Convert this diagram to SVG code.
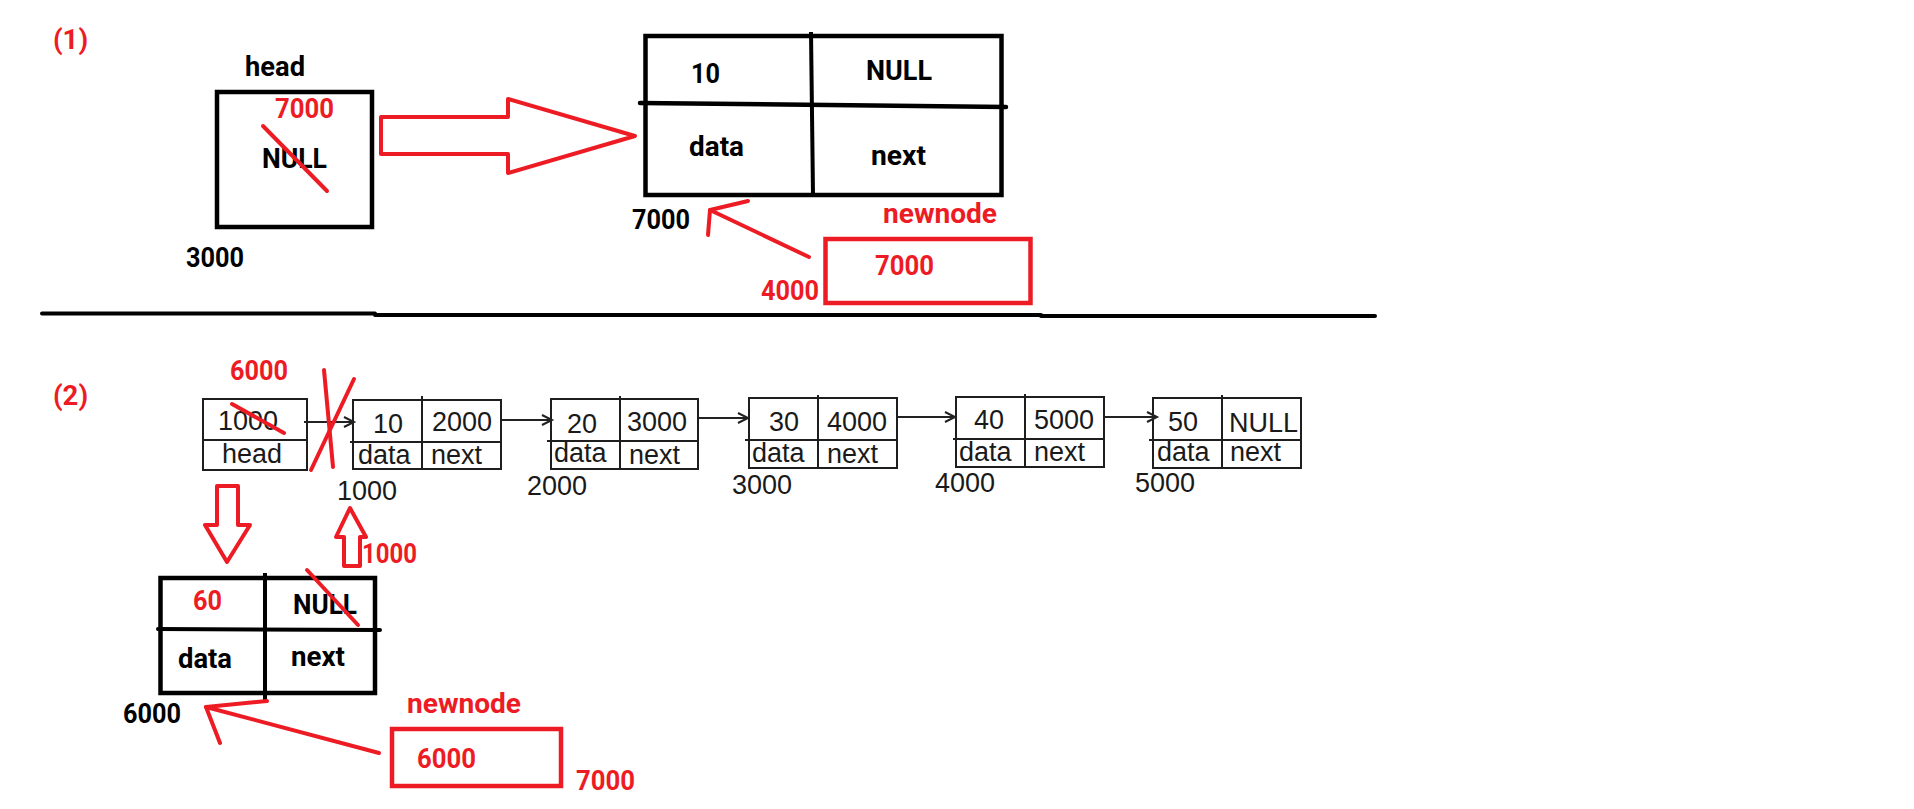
<svg xmlns="http://www.w3.org/2000/svg" width="1914" height="809" viewBox="0 0 1914 809">
<defs>
<style>
.bg{fill:#ffffff}
.thick{fill:none;stroke:#000;stroke-width:4.5}
.thin{fill:none;stroke:#1e1e1e;stroke-width:2}
.red{fill:none;stroke:#ed1c24;stroke-width:4;stroke-linecap:round;stroke-linejoin:round}
.redbox{fill:none;stroke:#ed1c24;stroke-width:4.5}
.tb{font-family:Roboto,"Liberation Sans",sans-serif;font-weight:700;font-size:27.5px;fill:#000}
.tr{font-family:Roboto,"Liberation Sans",sans-serif;font-weight:700;font-size:27.5px;fill:#ed1c24}
.tn{font-family:"Liberation Sans",Arial,sans-serif;font-size:27px;fill:#1a1a1a}
.conn{fill:none;stroke:#222;stroke-width:2}
</style>
<marker id="chev" markerUnits="userSpaceOnUse" markerWidth="14" markerHeight="14" refX="11" refY="6" orient="auto">
<path d="M1,1 L11,6 L1,11" fill="none" stroke="#222" stroke-width="2"/>
</marker>
</defs>
<rect class="bg" x="0" y="0" width="1914" height="809"/>

<!-- Section (1) -->
<text class="tr" x="53" y="49" font-size="26">(1)</text>

<g id="s1-head">
<text class="tb" x="245" y="76" textLength="60" lengthAdjust="spacingAndGlyphs">head</text>
<rect class="thick" x="217" y="92" width="155" height="135"/>
<text class="tr" x="275" y="118" textLength="59" lengthAdjust="spacingAndGlyphs">7000</text>
<text class="tb" x="262" y="168" textLength="65" lengthAdjust="spacingAndGlyphs">NULL</text>
<line class="red" x1="263" y1="126" x2="327" y2="191"/>
<text class="tb" x="186" y="267" textLength="58" lengthAdjust="spacingAndGlyphs">3000</text>
</g>

<g id="s1-node7000">
<rect class="thick" x="645.5" y="36" width="356" height="159"/>
<line x1="811" y1="32" x2="813" y2="195" stroke="#000" stroke-width="4"/>
<line x1="640" y1="103" x2="1006" y2="107" stroke="#000" stroke-width="4.5" stroke-linecap="round"/>
<text class="tb" x="691" y="83" textLength="29" lengthAdjust="spacingAndGlyphs">10</text>
<text class="tb" x="866" y="80" textLength="66" lengthAdjust="spacingAndGlyphs">NULL</text>
<text class="tb" x="689" y="156" textLength="55" lengthAdjust="spacingAndGlyphs">data</text>
<text class="tb" x="871" y="165" textLength="55" lengthAdjust="spacingAndGlyphs">next</text>
<text class="tb" x="632" y="229" textLength="58" lengthAdjust="spacingAndGlyphs">7000</text>
</g>

<g id="s1-newnode">
<text class="tr" x="883" y="223" textLength="114" lengthAdjust="spacingAndGlyphs">newnode</text>
<rect class="redbox" x="825.5" y="239" width="205" height="64"/>
<text class="tr" x="875" y="275" textLength="59" lengthAdjust="spacingAndGlyphs">7000</text>
<text class="tr" x="761" y="300" textLength="58" lengthAdjust="spacingAndGlyphs">4000</text>
</g>

<!-- separator -->
<path d="M42,313.5 H375 M375,315 H1041 M1041,316 H1375" fill="none" stroke="#000" stroke-width="4" stroke-linecap="round"/>

<!-- Section (2) -->
<text class="tr" x="53" y="405" font-size="26">(2)</text>

<g id="s2-head">
<rect class="thin" x="203" y="399" width="104" height="71"/>
<line class="thin" x1="203" y1="440" x2="307" y2="440"/>
<text class="tn" x="218" y="430">1000</text>
<text class="tn" x="222" y="463">head</text>
<text class="tr" x="230" y="380" textLength="58" lengthAdjust="spacingAndGlyphs">6000</text>
<line class="red" x1="232" y1="404" x2="284" y2="433"/>
</g>

<g id="n1000">
<rect class="thin" x="353" y="400" width="148" height="69"/>
<line class="thin" x1="422" y1="396" x2="422" y2="469"/>
<line class="thin" x1="350" y1="442" x2="501" y2="442"/>
<text class="tn" x="373" y="433">10</text>
<text class="tn" x="432" y="431">2000</text>
<text class="tn" x="358" y="464">data</text>
<text class="tn" x="431" y="464">next</text>
<text class="tn" x="337" y="500">1000</text>
</g>

<g id="n2000">
<rect class="thin" x="551" y="399" width="147" height="70"/>
<line class="thin" x1="620" y1="396" x2="620" y2="469"/>
<line class="thin" x1="547" y1="441" x2="698" y2="441"/>
<text class="tn" x="567" y="433">20</text>
<text class="tn" x="627" y="431">3000</text>
<text class="tn" x="554" y="462">data</text>
<text class="tn" x="629" y="464">next</text>
<text class="tn" x="527" y="495">2000</text>
</g>

<g id="n3000">
<rect class="thin" x="749" y="398" width="148" height="70"/>
<line class="thin" x1="818" y1="395" x2="818" y2="468"/>
<line class="thin" x1="745" y1="440" x2="897" y2="440"/>
<text class="tn" x="769" y="431">30</text>
<text class="tn" x="827" y="431">4000</text>
<text class="tn" x="752" y="462">data</text>
<text class="tn" x="827" y="463">next</text>
<text class="tn" x="732" y="494">3000</text>
</g>

<g id="n4000">
<rect class="thin" x="956" y="397" width="148" height="70"/>
<line class="thin" x1="1025" y1="394" x2="1025" y2="467"/>
<line class="thin" x1="953" y1="439" x2="1104" y2="439"/>
<text class="tn" x="974" y="429">40</text>
<text class="tn" x="1034" y="429">5000</text>
<text class="tn" x="959" y="461">data</text>
<text class="tn" x="1034" y="461">next</text>
<text class="tn" x="935" y="492">4000</text>
</g>

<g id="n5000">
<rect class="thin" x="1153" y="398" width="148" height="70"/>
<line class="thin" x1="1222" y1="395" x2="1222" y2="468"/>
<line class="thin" x1="1149" y1="440" x2="1301" y2="440"/>
<text class="tn" x="1168" y="431">50</text>
<text class="tn" x="1229" y="432">NULL</text>
<text class="tn" x="1157" y="461">data</text>
<text class="tn" x="1230" y="461">next</text>
<text class="tn" x="1135" y="492">5000</text>
</g>

<g id="s2-node6000">
<rect class="thick" x="160.5" y="578" width="214.5" height="115"/>
<line x1="265" y1="573" x2="265" y2="703" stroke="#000" stroke-width="4"/>
<line x1="158" y1="629" x2="380" y2="630" stroke="#000" stroke-width="4" stroke-linecap="round"/>
<text class="tr" x="193" y="610" textLength="29" lengthAdjust="spacingAndGlyphs">60</text>
<text class="tb" x="293" y="614" textLength="64" lengthAdjust="spacingAndGlyphs">NULL</text>
<line class="red" x1="307" y1="570" x2="358" y2="625"/>
<text class="tb" x="178" y="668" textLength="54" lengthAdjust="spacingAndGlyphs">data</text>
<text class="tb" x="291" y="666" textLength="54" lengthAdjust="spacingAndGlyphs">next</text>
<text class="tb" x="123" y="723" textLength="58" lengthAdjust="spacingAndGlyphs">6000</text>
</g>

<g id="s2-newnode">
<text class="tr" x="407" y="713" textLength="114" lengthAdjust="spacingAndGlyphs">newnode</text>
<rect class="redbox" x="392" y="729" width="169" height="57"/>
<text class="tr" x="417" y="768" textLength="59" lengthAdjust="spacingAndGlyphs">6000</text>
<text class="tr" x="576" y="790" textLength="59" lengthAdjust="spacingAndGlyphs">7000</text>
</g>

<text class="tr" x="362" y="563" textLength="55" lengthAdjust="spacingAndGlyphs">1000</text>

<g id="connectors">
<polygon class="red" points="381,117 508,117 508,99 635,136 508,173 508,154 381,154"/>
<line class="red" x1="809" y1="257" x2="710" y2="210"/>
<path class="red" d="M748,201 L710,210 L708,235"/>
<line class="conn" x1="304" y1="422" x2="354" y2="422" marker-end="url(#chev)"/>
<line class="conn" x1="501" y1="420" x2="552" y2="420" marker-end="url(#chev)"/>
<line class="conn" x1="698" y1="418" x2="748" y2="418" marker-end="url(#chev)"/>
<line class="conn" x1="897" y1="417" x2="955" y2="417" marker-end="url(#chev)"/>
<line class="conn" x1="1104" y1="417" x2="1157" y2="417" marker-end="url(#chev)"/>
<line class="red" x1="324" y1="370" x2="333" y2="467" stroke-width="3.5"/>
<line class="red" x1="354" y1="379" x2="311" y2="470" stroke-width="3.5"/>
<polygon class="red" points="217,486 238,486 238,525 250,525 227,562 205,525 217,525"/>
<polygon class="red" points="350,508 366,537 360,537 360,566 344,566 344,537 336,537"/>
<line class="red" x1="379" y1="753" x2="206" y2="707"/>
<path class="red" d="M267,701 L206,707 L220,743"/>
</g>
</svg>
